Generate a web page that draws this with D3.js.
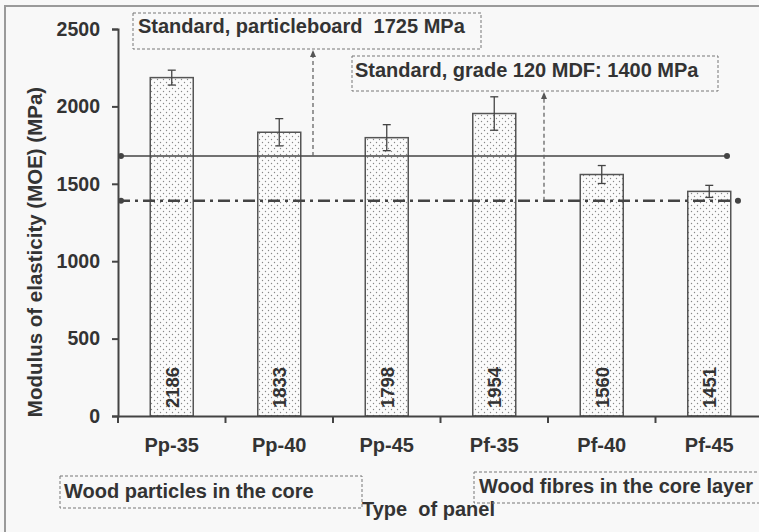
<!DOCTYPE html>
<html>
<head>
<meta charset="utf-8">
<script src="https://cdn.jsdelivr.net/npm/d3@7"></script>
<style>
  body { margin: 0; background: #f8f8f8; }
  text { font-family: "Liberation Sans", Arial, sans-serif; font-weight: bold; fill: #333; }
</style>
</head>
<body>
<div id="chart"></div>
<script>
"use strict";
(function() {

const WIDTH = 759
const HEIGHT = 532

const margin = { top: 29, bottom: 116, left: 118, right: -4 }

// data
const categories = ["Pp-35", "Pp-40", "Pp-45", "Pf-35", "Pf-40", "Pf-45"]
const moe = [2186, 1833, 1798, 1954, 1560, 1451]
const moeErr = [48, 88, 84, 108, 58, 39]
const yTicks = [0, 500, 1000, 1500, 2000, 2500]

// reference lines as drawn (particleboard, MDF)
const standardValues = [1680, 1390]
const standardLabels = ["Standard, particleboard  1725 MPa", "Standard, grade 120 MDF: 1400 MPa"]

const groupLabels = ["Wood particles in the core", "Wood fibres in the core layer"]
const xTitle = "Type  of panel"
const yTitle = "Modulus of elasticity (MOE) (MPa)"

const INK = "#444"

let svg = d3.select("#chart").append("svg")
    .attr("width", WIDTH)
    .attr("height", HEIGHT)

// dotted fill for bars
let pat = svg.append("defs").append("pattern")
    .attr("id", "dots")
    .attr("patternUnits", "userSpaceOnUse")
    .attr("width", 6)
    .attr("height", 6)
pat.append("rect").attr("width", 6).attr("height", 6).attr("fill", "#fbfbfb")
pat.append("circle").attr("cx", 1.5).attr("cy", 1.5).attr("r", 0.7).attr("fill", "#888")
pat.append("circle").attr("cx", 4.5).attr("cy", 4.5).attr("r", 0.7).attr("fill", "#888")

// outer frame
svg.append("path")
    .attr("d", `M5,${HEIGHT} L5,6 L${WIDTH},6`)
    .attr("fill", "none")
    .attr("stroke", "#9a9a9a")
    .attr("stroke-width", 2)

let x_scale = d3.scaleBand()
    .domain(categories)
    .range([margin.left, WIDTH - margin.right])
    .paddingInner(0.6)
    .paddingOuter(0.3)

let y_scale = d3.scaleLinear()
    .domain([0, 2500])
    .range([HEIGHT - margin.bottom, margin.top])

// bars
svg.selectAll("rect.bar")
    .data(moe)
    .enter().append("rect")
    .attr("class", "bar")
    .attr("x", (d, i) => x_scale(categories[i]))
    .attr("y", d => y_scale(d))
    .attr("width", x_scale.bandwidth())
    .attr("height", d => y_scale(0) - y_scale(d))
    .attr("fill", "url(#dots)")
    .attr("stroke", "#555")
    .attr("stroke-width", 1.5)

// error bars
let eb = svg.selectAll("g.err")
    .data(moe)
    .enter().append("g")
    .attr("class", "err")
    .attr("transform", (d, i) => `translate(${x_scale(categories[i]) + x_scale.bandwidth() / 2},0)`)
    .attr("stroke", INK)
    .attr("stroke-width", 1.3)
eb.append("line")
    .attr("y1", (d, i) => y_scale(d + moeErr[i]))
    .attr("y2", (d, i) => y_scale(d - moeErr[i]))
eb.append("line")
    .attr("x1", -4).attr("x2", 4)
    .attr("y1", (d, i) => y_scale(d + moeErr[i]))
    .attr("y2", (d, i) => y_scale(d + moeErr[i]))
eb.append("line")
    .attr("x1", -4).attr("x2", 4)
    .attr("y1", (d, i) => y_scale(d - moeErr[i]))
    .attr("y2", (d, i) => y_scale(d - moeErr[i]))

// value labels inside bars
svg.selectAll("text.val")
    .data(moe)
    .enter().append("text")
    .attr("class", "val")
    .attr("transform", (d, i) => `translate(${x_scale(categories[i]) + x_scale.bandwidth() / 2 + 7},${y_scale(0) - 8}) rotate(-90)`)
    .style("font-size", "18.5px")
    .text(d => d)

// standard lines
let xEnds = [727, 738]
standardValues.forEach(function(v, i) {
    svg.append("line")
        .attr("x1", margin.left).attr("x2", xEnds[i])
        .attr("y1", y_scale(v)).attr("y2", y_scale(v))
        .attr("stroke", INK)
        .attr("stroke-width", i === 0 ? 1.5 : 2.5)
        .attr("stroke-dasharray", i === 0 ? null : "12,5,3,5")
    ;[margin.left + 3, xEnds[i]].forEach(function(cx) {
        svg.append("circle").attr("cx", cx).attr("cy", y_scale(v)).attr("r", 3).attr("fill", INK)
    })
})

// y axis
let yAxis = svg.append("g")
    .attr("transform", `translate(${margin.left},0)`)
    .call(d3.axisLeft(y_scale).tickValues(yTicks).tickFormat(d3.format("d")).tickSize(6).tickPadding(12))
yAxis.select(".domain").attr("stroke", INK).attr("stroke-width", 2)
yAxis.selectAll(".tick line").attr("stroke", INK).attr("stroke-width", 2)
yAxis.selectAll(".tick text").style("font-size", "19.5px").style("font-family", null).attr("fill", "#333")

// x axis
let xAxis = svg.append("g")
    .attr("transform", `translate(0,${y_scale(0)})`)
    .call(d3.axisBottom(x_scale).tickSize(0).tickPadding(22))
xAxis.select(".domain").attr("stroke", INK).attr("stroke-width", 2)
xAxis.selectAll(".tick text").style("font-size", "20px").style("font-family", null).attr("fill", "#333")
xAxis.selectAll("line.sep")
    .data(categories)
    .enter().append("line")
    .attr("class", "sep")
    .attr("x1", (d, i) => x_scale(d) - x_scale.step() * 0.3)
    .attr("x2", (d, i) => x_scale(d) - x_scale.step() * 0.3)
    .attr("y1", 0).attr("y2", 7)
    .attr("stroke", INK).attr("stroke-width", 2)

// axis titles
svg.append("text")
    .attr("transform", `translate(42,252) rotate(-90)`)
    .attr("text-anchor", "middle")
    .style("font-size", "20.5px")
    .text(yTitle)

svg.append("text")
    .attr("x", 362).attr("y", 516)
    .style("font-size", "20px")
    .style("white-space", "pre")
    .text(xTitle)

// dotted annotation boxes
function box(x0, y0, x1, y1, label, tx, ty) {
    svg.append("rect")
        .attr("x", x0).attr("y", y0)
        .attr("width", x1 - x0).attr("height", y1 - y0)
        .attr("fill", "none")
        .attr("stroke", "#777")
        .attr("stroke-dasharray", "3,2")
    svg.append("text")
        .attr("x", tx).attr("y", ty)
        .style("font-size", "20px")
        .style("white-space", "pre")
        .text(label)
}

box(133, 13, 481, 49, standardLabels[0], 138, 33)
box(352, 56, 718, 91, standardLabels[1], 355, 77)
box(60, 476, 362, 508, groupLabels[0], 64, 498)
box(474, 472, 764, 503, groupLabels[1], 479, 493)

// arrows from the lines up to their labels
let arrowX = [313, 544]
let arrowTop = [49, 91]
standardValues.forEach(function(v, i) {
    svg.append("line")
        .attr("x1", arrowX[i]).attr("x2", arrowX[i])
        .attr("y1", y_scale(v)).attr("y2", arrowTop[i] + 6)
        .attr("stroke", "#666")
        .attr("stroke-width", 1.3)
        .attr("stroke-dasharray", "4,3")
    svg.append("path")
        .attr("d", `M${arrowX[i]},${arrowTop[i] + 1} l-3,7 l6,0 z`)
        .attr("fill", "#555")
})

})();
</script>
</body>
</html>
